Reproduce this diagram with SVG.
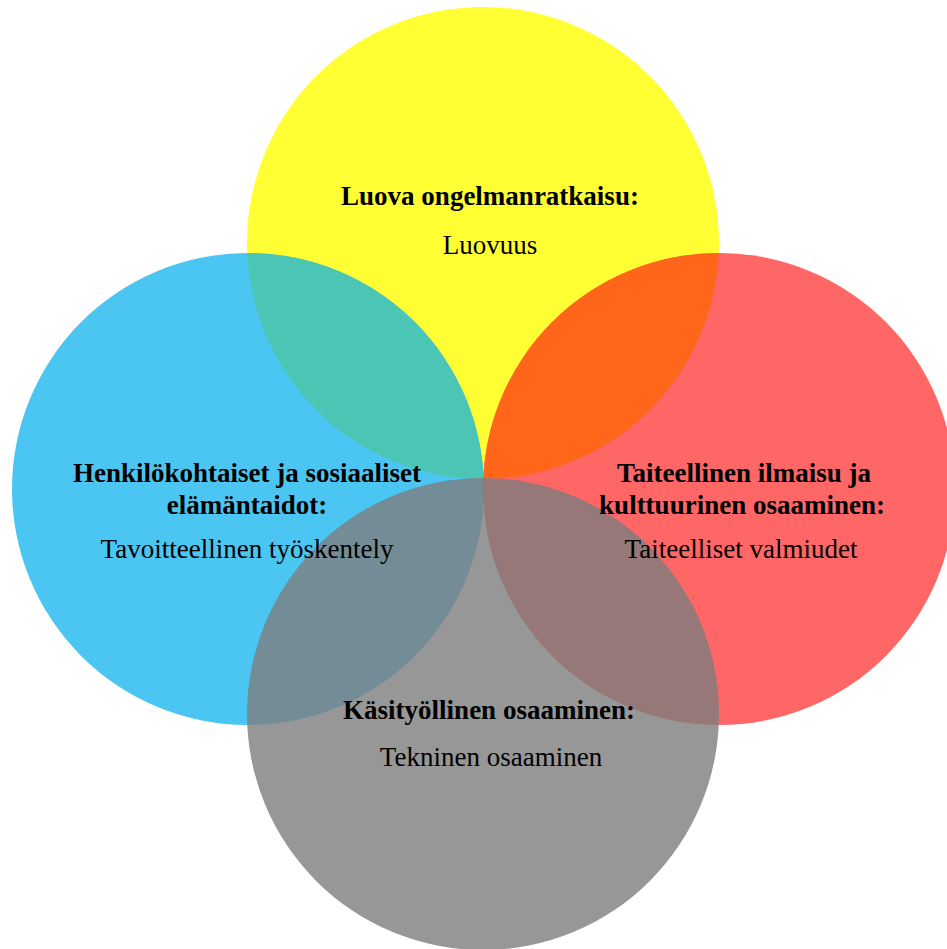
<svg xmlns="http://www.w3.org/2000/svg" width="947" height="949" viewBox="0 0 947 949">
<style>
text{font-family:"Liberation Serif","Times New Roman",serif;font-size:27px;fill:#000;text-anchor:middle}
.b{font-weight:bold}
</style>
<defs>
<clipPath id="cy"><circle cx="483" cy="243" r="236"/></clipPath>
</defs>
<rect width="947" height="949" fill="#fff"/>
<g id="yellow"><circle cx="483" cy="243" r="236" fill="#FFFF33"/></g>
<g id="blue"><circle cx="248" cy="489" r="236" fill="#4BC6F3"/></g>
<g id="red"><circle cx="719" cy="489" r="236" fill="#FF6666"/></g>
<g id="overlaps" clip-path="url(#cy)">
<circle cx="248" cy="489" r="236" fill="#4BC6B4"/>
<circle cx="719" cy="489" r="236" fill="#FF661A"/>
</g>
<g id="gray"><circle cx="483" cy="714" r="236" fill="#7D7D7D" fill-opacity="0.8"/></g>
<g id="labels">
<text class="b" x="490" y="205">Luova ongelmanratkaisu:</text>
<text x="490" y="254">Luovuus</text>
<text class="b" x="247" y="482">Henkilökohtaiset ja sosiaaliset</text>
<text class="b" x="247" y="514">elämäntaidot:</text>
<text x="247" y="558">Tavoitteellinen työskentely</text>
<text class="b" x="744" y="482">Taiteellinen ilmaisu ja</text>
<text class="b" x="742" y="514">kulttuurinen osaaminen:</text>
<text x="741" y="558">Taiteelliset valmiudet</text>
<text class="b" x="489" y="719">Käsityöllinen osaaminen:</text>
<text x="491" y="766">Tekninen osaaminen</text>
</g>
</svg>
